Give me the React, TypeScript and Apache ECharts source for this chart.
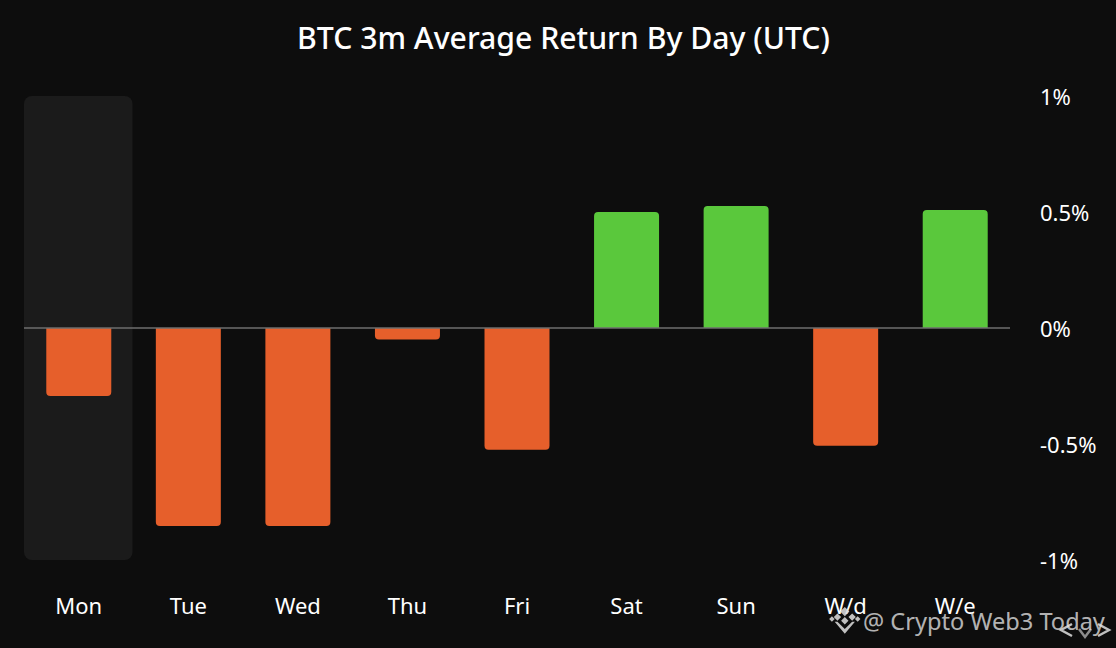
import React, { useEffect, useRef } from "react";
import * as echarts from "echarts";

const categories = ["Mon", "Tue", "Wed", "Thu", "Fri", "Sat", "Sun", "W/d", "W/e"];
const returns = [-0.293, -0.853, -0.853, -0.05, -0.525, 0.5, 0.526, -0.508, 0.509];
const highlighted = ["Mon"];
const yTicks: Record<string, string> = { "1": "1%", "0.5": "0.5%", "0": "0%", "-0.5": "-0.5%", "-1": "-1%" };
const titleText = "BTC 3m Average Return By Day (UTC)";
const watermark = "@ Crypto Web3 Today";

const FONT = "'Noto Sans', sans-serif";
const GREEN = "#5ac83c";
const ORANGE = "#e65f2b";

echarts.graphic.registerShape(
  "bnbLogo",
  echarts.graphic.extendPath(
    "M15 0 L20 5 L15 10 L10 5 Z M7 7 L11 11 L7 15 L3 11 Z M23 7 L27 11 L23 15 L19 11 Z M15 11 L19 15 L15 19 L11 15 Z M4 16 L7 16 L15 24 L23 16 L26 16 L15 29 Z M1 10 L4 13 L1 16 L-2 13 Z M29 10 L32 13 L29 16 L26 13 Z",
    {}
  )
);

export default function App() {
  const ref = useRef<HTMLDivElement>(null);
  useEffect(() => {
    const chart = echarts.init(ref.current!, null, { renderer: "svg" });
    chart.setOption({
      animation: false,
      backgroundColor: "#0d0d0d",
      title: {
        text: titleText,
        left: 558.5,
        top: 17,
        textAlign: "center",
        textStyle: { color: "#ffffff", fontFamily: FONT, fontSize: 30.2, fontWeight: 500 },
      },
      grid: { left: 24, right: 106, top: 96, bottom: 88 },
      xAxis: {
        type: "category",
        data: categories,
        position: "bottom",
        axisLine: { show: false, onZero: false },
        axisTick: { show: false },
        axisLabel: { color: "#ffffff", fontFamily: FONT, fontSize: 22, margin: 34 },
      },
      yAxis: {
        type: "value",
        position: "right",
        min: -1,
        max: 1,
        interval: 0.5,
        splitLine: { show: false },
        axisLine: { show: false },
        axisTick: { show: false },
        axisLabel: {
          color: "#ffffff",
          fontFamily: FONT,
          fontSize: 22,
          margin: 30,
          align: "left",
          verticalAlignMaxLabel: "middle",
          verticalAlignMinLabel: "middle",
          formatter: (v: number) => yTicks[String(v)] ?? "",
          padding: [3, 0, 0, 0],
        },
      },
      series: [
        {
          type: "custom",
          silent: true,
          z: 1,
          data: highlighted.map((c) => [c]),
          encode: { x: 0 },
          renderItem: (_p: any, api: any) => {
            const band = api.size([1, 0])[0];
            const x = api.coord([api.value(0), 0])[0];
            const top = api.coord([api.value(0), 1])[1];
            const bottom = api.coord([api.value(0), -1])[1];
            return {
              type: "rect",
              shape: { x: x - band / 2, y: top, width: band - 1, height: bottom - top, r: 8 },
              style: { fill: "#1b1b1b" },
            };
          },
        },
        {
          type: "bar",
          z: 3,
          barWidth: 65,
          data: returns.map((v) => ({
            value: v,
            itemStyle: {
              color: v >= 0 ? GREEN : ORANGE,
              borderRadius: v >= 0 ? [4, 4, 0, 0] : [0, 0, 4, 4],
            },
          })),
          markLine: {
            silent: true,
            symbol: "none",
            label: { show: false },
            lineStyle: { color: "#6e6e6e", width: 1.5, type: "solid" },
            data: [{ yAxis: 0 }],
          },
        },
      ],
      graphic: [
        {
          type: "bnbLogo",
          x: 831,
          y: 607,
          scaleX: 0.92,
          scaleY: 0.92,
          z: 20,
          style: { fill: "rgba(225,225,225,0.85)" },
        },
        {
          type: "text",
          x: 863,
          y: 621,
          z: 20,
          style: {
            text: watermark,
            fill: "rgba(225,225,225,0.8)",
            font: "23.6px " + FONT,
            textVerticalAlign: "middle",
          },
        },
        {
          type: "polyline",
          z: 21,
          shape: { points: [[1072, 624], [1061, 630], [1072, 636]] },
          style: { stroke: "rgba(225,225,225,0.85)", lineWidth: 2.5, fill: "none" },
        },
        {
          type: "polyline",
          z: 21,
          shape: { points: [[1079, 629], [1085, 637], [1091, 629]] },
          style: { stroke: "rgba(225,225,225,0.6)", lineWidth: 2.5, fill: "none" },
        },
        {
          type: "polyline",
          z: 21,
          shape: { points: [[1098, 624], [1109, 630], [1098, 636]] },
          style: { stroke: "rgba(225,225,225,0.85)", lineWidth: 2.5, fill: "none" },
        },
      ],
    });
    return () => chart.dispose();
  }, []);
  return <div ref={ref} style={{ position: "fixed", left: 0, top: 0, width: 1116, height: 648 }} />;
}
